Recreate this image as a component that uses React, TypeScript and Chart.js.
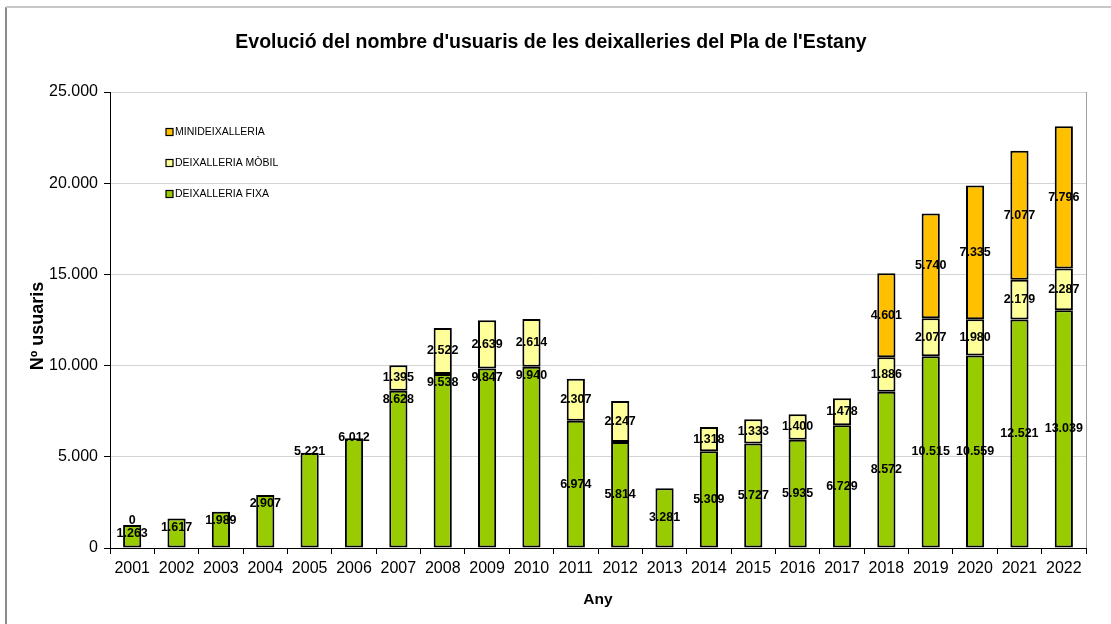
import React, { useEffect, useRef } from "react";
import { Chart, registerables } from "chart.js";

Chart.register(...registerables);

const years = ["2001", "2002", "2003", "2004", "2005", "2006", "2007", "2008", "2009", "2010", "2011", "2012", "2013", "2014", "2015", "2016", "2017", "2018", "2019", "2020", "2021", "2022"];
const fixa = [1263, 1617, 1989, 2907, 5221, 6012, 8628, 9538, 9847, 9940, 6974, 5814, 3281, 5309, 5727, 5935, 6729, 8572, 10515, 10559, 12521, 13039];
const mobil = [0, null, null, null, null, null, 1395, 2522, 2639, 2614, 2307, 2247, null, 1318, 1333, 1400, 1478, 1886, 2077, 1980, 2179, 2287];
const mini = [null, null, null, null, null, null, null, null, null, null, null, null, null, null, null, null, null, 4601, 5740, 7335, 7077, 7796];
const yTicks = [0, 5000, 10000, 15000, 20000, 25000];
const seriesNames = ["DEIXALLERIA FIXA", "DEIXALLERIA MÒBIL", "MINIDEIXALLERIA"];
// label placement for the "fixa" values (style, not data)
const fixaLabelPlacement = ["top", "top", "top", "top", "edge", "edge", "top", "top", "top", "top", "center", "center", "center", "center", "center", "center", "center", "center", "center", "center", "center", "center"];

const TITLE = "Evolució del nombre d'usuaris de les deixalleries del Pla de l'Estany";
const FONT = "'Liberation Sans', Arial, sans-serif";
const COLORS = ["#99CC00", "#FFFF99", "#FFC000"];

const fmt = (v: number) => String(v).replace(/\B(?=(\d{3})+(?!\d))/g, ".");

const decor = {
  id: "decor",
  beforeDraw(chart: any) {
    const ctx = chart.ctx;
    ctx.save();
    ctx.fillStyle = "#fff";
    ctx.fillRect(0, 0, chart.width, chart.height);
    // outer frame
    ctx.strokeStyle = "#8a8a8a";
    ctx.lineWidth = 2;
    ctx.beginPath();
    ctx.moveTo(6, chart.height);
    ctx.lineTo(6, 7);
    ctx.stroke();
    ctx.strokeStyle = "#c8c8c8";
    ctx.beginPath();
    ctx.moveTo(6, 7);
    ctx.lineTo(chart.width, 7);
    ctx.stroke();
    ctx.restore();
  },
  afterDatasetsDraw(chart: any) {
    const ctx = chart.ctx;
    ctx.save();
    ctx.font = `bold 12.5px ${FONT}`;
    ctx.fillStyle = "#000";
    ctx.textAlign = "center";
    ctx.textBaseline = "middle";
    chart.data.datasets.forEach((ds: any, di: number) => {
      const meta = chart.getDatasetMeta(di);
      meta.data.forEach((el: any, i: number) => {
        const v = ds.data[i];
        if (v === null || v === undefined) return;
        const top = Math.min(el.y, el.base);
        const bottom = Math.max(el.y, el.base);
        let y = (top + bottom) / 2;
        if (di === 0 && fixaLabelPlacement[i] === "top") y = top + 9;
        if (di === 0 && fixaLabelPlacement[i] === "edge") y = top - 1;
        if (v === 0) y = top - 4;
        ctx.fillText(fmt(v), el.x, y);
      });
    });
    ctx.restore();
  },
  afterDraw(chart: any) {
    const ctx = chart.ctx;
    const ca = chart.chartArea;
    ctx.save();
    // plot area right border
    ctx.strokeStyle = "#a0a0a0";
    ctx.lineWidth = 1;
    ctx.beginPath();
    ctx.moveTo(ca.right + 0.5, ca.top);
    ctx.lineTo(ca.right + 0.5, ca.bottom);
    ctx.stroke();
    // title
    ctx.fillStyle = "#000";
    ctx.textAlign = "center";
    ctx.textBaseline = "middle";
    ctx.font = `bold 19.5px ${FONT}`;
    ctx.fillText(TITLE, 551, 43);
    // axis titles
    ctx.font = `bold 15.5px ${FONT}`;
    ctx.fillText("Any", (ca.left + ca.right) / 2, 600);
    ctx.save();
    ctx.font = `bold 18px ${FONT}`;
    ctx.translate(38, 326);
    ctx.rotate(-Math.PI / 2);
    ctx.fillText("Nº usuaris", 0, 0);
    ctx.restore();
    // legend
    ctx.font = `10.5px ${FONT}`;
    ctx.textAlign = "left";
    const order = [2, 1, 0];
    order.forEach((di, k) => {
      const yc = 132 + k * 31;
      const x0 = ca.left + 56;
      ctx.fillStyle = COLORS[di];
      ctx.fillRect(x0, yc - 3.5, 7, 7);
      ctx.strokeStyle = "#000";
      ctx.lineWidth = 1.2;
      ctx.strokeRect(x0, yc - 3.5, 7, 7);
      ctx.fillStyle = "#000";
      ctx.fillText(seriesNames[di], x0 + 9, yc + 0.5);
    });
    ctx.restore();
  },
};

export default function App() {
  const ref = useRef<HTMLCanvasElement | null>(null);
  useEffect(() => {
    if (!ref.current) return;
    const chart = new Chart(ref.current, {
      type: "bar",
      data: {
        labels: years,
        datasets: [fixa, mobil, mini].map((d, i) => ({
          label: seriesNames[i],
          data: d as any,
          backgroundColor: COLORS[i],
          borderColor: "#000",
          borderWidth: 2,
          borderSkipped: false,
          categoryPercentage: 1,
          barPercentage: 0.41,
        })),
      },
      options: {
        responsive: false,
        animation: false,
        layout: { padding: { left: 0, right: 25, top: 92, bottom: 0 } },
        plugins: { legend: { display: false }, title: { display: false }, tooltip: { enabled: false } },
        scales: {
          x: {
            stacked: true,
            grid: { display: true, drawOnChartArea: false, drawTicks: true, tickLength: 6, tickColor: "#000", offset: true },
            border: { color: "#000", width: 1 },
            ticks: { color: "#000", font: { family: FONT, size: 16 }, padding: 5, maxRotation: 0, autoSkip: false },
            afterFit: (s: any) => { s.height = 76; },
          },
          y: {
            stacked: true,
            min: yTicks[0],
            max: yTicks[yTicks.length - 1],
            afterBuildTicks: (s: any) => { s.ticks = yTicks.map((v) => ({ value: v })); },
            ticks: { color: "#000", font: { family: FONT, size: 16 }, padding: 6, callback: (v: any) => fmt(Number(v)) },
            grid: { color: "#d4d4d4", tickColor: "#000", tickLength: 6 },
            border: { color: "#000", width: 1 },
            afterFit: (s: any) => { s.width = 110; },
          },
        },
      },
      plugins: [decor],
    });
    return () => chart.destroy();
  }, []);
  return (
    <div style={{ position: "fixed", left: 0, top: 0, width: 1111, height: 624, background: "#fff" }}>
      <canvas ref={ref} width={1111} height={624} />
    </div>
  );
}
